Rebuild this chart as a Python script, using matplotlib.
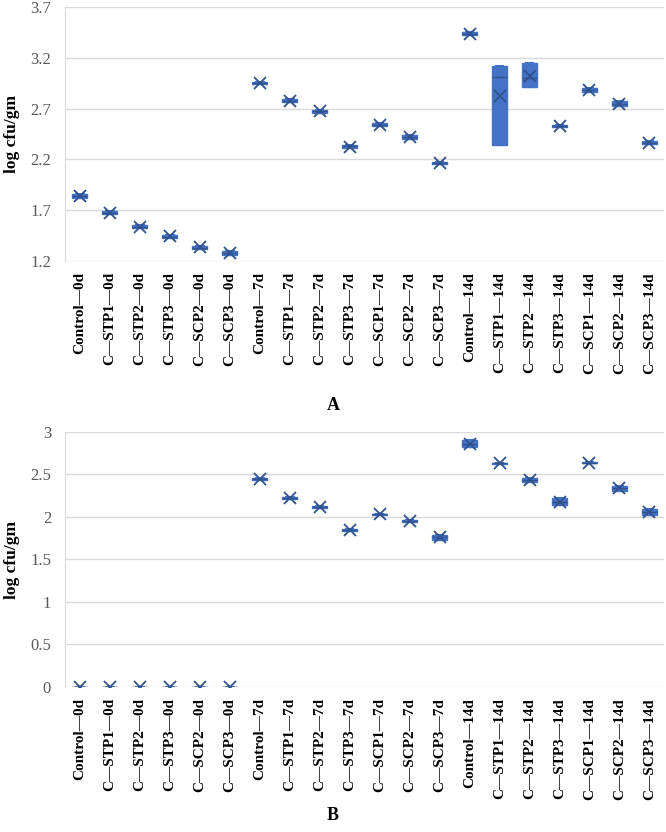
import numpy as np
import matplotlib
matplotlib.use("Agg")
import matplotlib.pyplot as plt

# sample labels (same for both panels)
categories = ["Control—0d", "C—STP1—0d", "C—STP2—0d", "C—STP3—0d", "C—SCP2—0d", "C—SCP3—0d",
              "Control—7d", "C—STP1—7d", "C—STP2—7d", "C—STP3—7d", "C—SCP1—7d", "C—SCP2—7d", "C—SCP3—7d",
              "Control—14d", "C—STP1—14d", "C—STP2—14d", "C—STP3—14d", "C—SCP1—14d", "C—SCP2—14d", "C—SCP3—14d"]

# replicate counts (log cfu/gm), panel A
counts_a = [[1.82, 1.84, 1.86], [1.66, 1.67, 1.69], [1.52, 1.53, 1.55], [1.43, 1.44, 1.46],
            [1.32, 1.33, 1.35], [1.26, 1.28, 1.30], [2.94, 2.95, 2.96], [2.76, 2.77, 2.79],
            [2.66, 2.68, 2.69], [2.31, 2.33, 2.34], [2.53, 2.54, 2.56], [2.40, 2.42, 2.44],
            [2.15, 2.16, 2.17], [3.42, 3.43, 3.45], [2.34, 3.01, 3.12], [2.91, 3.00, 3.15],
            [2.52, 2.53, 2.54], [2.86, 2.88, 2.90], [2.73, 2.75, 2.77], [2.35, 2.36, 2.38]]

# replicate counts (log cfu/gm), panel B
counts_b = [[0, 0, 0], [0, 0, 0], [0, 0, 0], [0, 0, 0], [0, 0, 0], [0, 0, 0],
            [2.44, 2.45, 2.46], [2.21, 2.22, 2.23], [2.11, 2.12, 2.13], [1.84, 1.85, 1.86],
            [2.02, 2.03, 2.04], [1.94, 1.95, 1.96], [1.73, 1.76, 1.79], [2.82, 2.86, 2.90],
            [2.62, 2.63, 2.64], [2.41, 2.44, 2.46], [2.14, 2.18, 2.22], [2.63, 2.64, 2.65],
            [2.31, 2.34, 2.36], [2.02, 2.06, 2.09]]

yticks_a = [1.2, 1.7, 2.2, 2.7, 3.2, 3.7]
yticks_b = [0, 0.5, 1, 1.5, 2, 2.5, 3]

BLUE = "#4472C4"
DARK = "#2F528F"
SERIF = "Liberation Serif"


def box_stats(groups):
    # excel-style exclusive quartiles
    stats = []
    for g in groups:
        g = np.asarray(g, dtype=float)
        stats.append({
            "med": np.median(g),
            "mean": g.mean(),
            "q1": np.percentile(g, 25, method="weibull"),
            "q3": np.percentile(g, 75, method="weibull"),
            "whislo": g.min(),
            "whishi": g.max(),
            "fliers": [],
        })
    return stats


def draw_panel(ax, groups, yticks):
    pos = np.arange(len(groups))
    ax.bxp(box_stats(groups), positions=pos, widths=0.5, patch_artist=True,
           showmeans=True, showfliers=False,
           boxprops=dict(facecolor=BLUE, edgecolor=BLUE, linewidth=1),
           medianprops=dict(color=DARK, linewidth=1),
           whiskerprops=dict(color=BLUE, linewidth=1),
           capprops=dict(color=BLUE, linewidth=1.5),
           meanprops=dict(marker="x", markersize=9, markeredgecolor=DARK,
                          markeredgewidth=1.3))
    ax.set_xlim(-0.5, len(groups) - 0.5)
    ax.set_ylim(yticks[0], yticks[-1])
    ax.set_yticks(yticks)
    ax.set_yticklabels([f"{t:g}" for t in yticks], fontsize=12, family=SERIF, color="#595959")
    ax.set_xticks(pos)
    ax.set_xticklabels(categories, rotation=90, fontsize=11, family=SERIF,
                       fontweight="bold", color="black")
    ax.tick_params(axis="x", length=0, pad=8)
    ax.tick_params(axis="y", length=0, pad=10)
    ax.yaxis.grid(True, color="#D9D9D9", linewidth=1)
    ax.set_axisbelow(True)
    for s in ["top", "right", "bottom"]:
        ax.spines[s].set_visible(False)
    ax.spines["left"].set_color("#D9D9D9")
    ax.set_ylabel("log cfu/gm", fontsize=12.5, family=SERIF, fontweight="bold")
    ax.yaxis.set_label_coords(-0.075, 0.5)


fig = plt.figure(figsize=(6.66, 8.32), dpi=100)
ax_a = fig.add_axes([0.0976, 0.6863, 0.9, 0.3053])
ax_b = fig.add_axes([0.0976, 0.1743, 0.9, 0.3065])

draw_panel(ax_a, counts_a, yticks_a)
draw_panel(ax_b, counts_b, yticks_b)

fig.text(0.5, 1 - 405 / 832, "A", ha="center", va="center", fontsize=13,
         family=SERIF, fontweight="bold")
fig.text(0.5, 1 - 815 / 832, "B", ha="center", va="center", fontsize=13,
         family=SERIF, fontweight="bold")

fig.savefig("out.png", dpi=100)
